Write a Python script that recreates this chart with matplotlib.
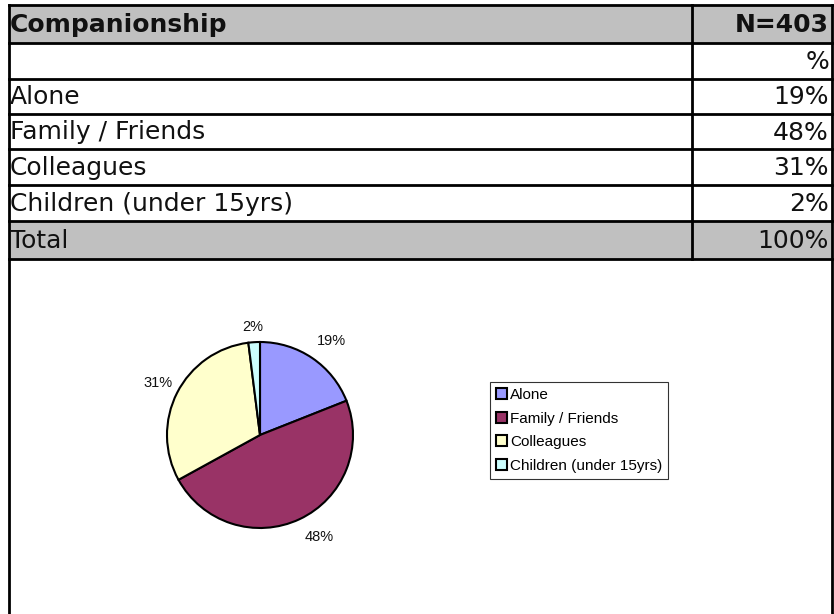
import numpy as np
import matplotlib.pyplot as plt
from matplotlib.patches import Rectangle, Patch

# table / pie data
title = "Companionship"
n_label = "N=403"
categories = ["Alone", "Family / Friends", "Colleagues", "Children (under 15yrs)"]
shares = [19, 48, 31, 2]
total_label = "Total"
total_value = "100%"
colors = ["#9999FF", "#993366", "#FFFFCC", "#CCFFFF"]

W, H = 834, 614
fig = plt.figure(figsize=(W / 100, H / 100), dpi=100)

# background axes in pixel coordinates for the table
bg = fig.add_axes([0, 0, 1, 1])
bg.set_xlim(0, W)
bg.set_ylim(H, 0)
bg.axis("off")

left, right, split = 9, 832, 692
rows = [5, 43, 79, 114, 149, 185, 221, 259]
grey = "#C0C0C0"

# grey header and total rows
bg.add_patch(Rectangle((left, rows[0]), right - left, rows[1] - rows[0], color=grey, lw=0))
bg.add_patch(Rectangle((left, rows[-2]), right - left, rows[-1] - rows[-2], color=grey, lw=0))

lw = 2.0
for y in rows:
    bg.plot([left, right], [y, y], color="black", lw=lw, solid_capstyle="projecting")
bg.plot([left, left], [rows[0], H], color="black", lw=lw)
bg.plot([right, right], [rows[0], H], color="black", lw=lw)
bg.plot([split, split], [rows[0], rows[-1]], color="black", lw=lw)

fs = 18
tx, vx = 10, 829
cells = [(title, n_label, True), ("", "%", False)]
cells += [(c, f"{v}%", False) for c, v in zip(categories, shares)]
cells += [(total_label, total_value, False)]
for i, (lab, val, bold) in enumerate(cells):
    yc = (rows[i] + rows[i + 1]) / 2 + 1
    w = "bold" if bold else "normal"
    bg.text(tx, yc, lab, ha="left", va="center", fontsize=fs, fontweight=w,
            family="DejaVu Sans", color="#111111")
    bg.text(vx, yc, val, ha="right", va="center", fontsize=fs, fontweight=w,
            family="DejaVu Sans", color="#111111")

# pie chart
cx, cy, r = 260, 435, 93
half = 100
ax = fig.add_axes([(cx - half) / W, (H - cy - half) / H, 2 * half / W, 2 * half / H])
wedges, _, autotexts = ax.pie(shares, colors=colors, startangle=90, counterclock=False,
                              autopct="%.0f%%", pctdistance=1.24,
                              wedgeprops=dict(edgecolor="black", linewidth=1.5),
                              textprops=dict(family="Liberation Sans", fontsize=10.5,
                                             color="#111111"))
# Excel-like label placement around the pie
label_dist = [1.27, 1.27, 1.23, 1.16]
label_shift = [-3, 5, 0, 0]
for wdg, t, d, s in zip(wedges, autotexts, label_dist, label_shift):
    ang = np.deg2rad((wdg.theta1 + wdg.theta2) / 2 + s)
    t.set_position((d * np.cos(ang), d * np.sin(ang)))
lim = half / r
ax.set_xlim(-lim, lim)
ax.set_ylim(-lim, lim)
ax.set_aspect("equal")
ax.axis("off")

handles = [Patch(facecolor=c, edgecolor="black", linewidth=1.5) for c in colors]
leg = fig.legend(handles, categories, loc="upper left",
                 bbox_to_anchor=(490 / W, 1 - 382 / H),
                 prop=dict(family="Liberation Sans", size=11),
                 frameon=True, fancybox=False, handlelength=0.7, handleheight=0.7,
                 handletextpad=0.2, labelspacing=0.62, borderpad=0.4,
                 borderaxespad=0)
leg.get_frame().set_edgecolor("black")
leg.get_frame().set_linewidth(0.8)

fig.savefig("out.png", dpi=100)
